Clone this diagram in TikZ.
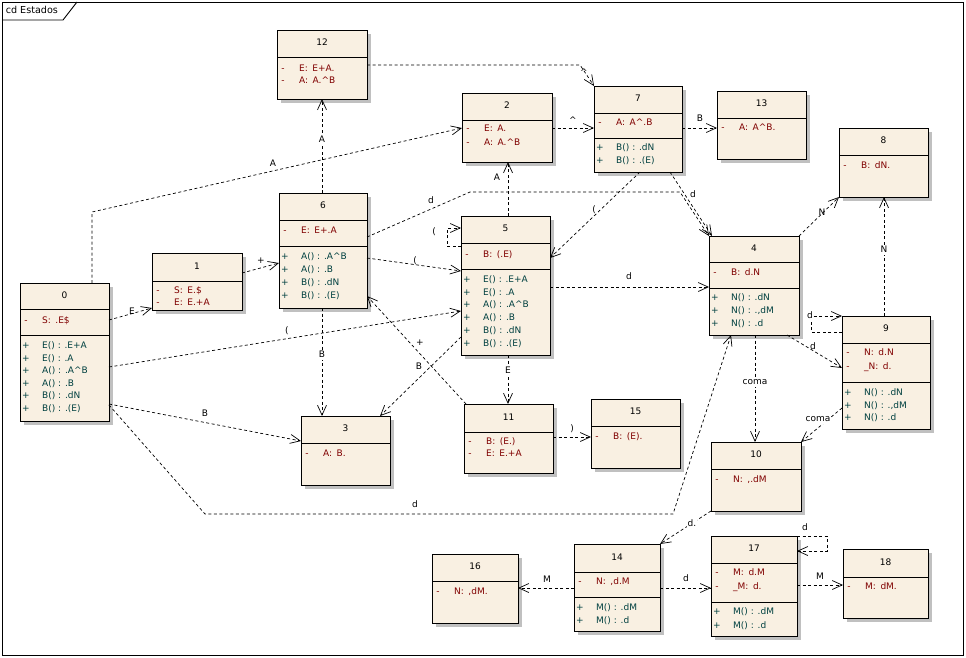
\documentclass[tikz,border=0pt]{standalone}
\usepackage{fontspec}
\setmainfont{DejaVu Sans}
\usetikzlibrary{arrows.meta,calc}

\definecolor{boxfill}{RGB}{249,240,226}
\definecolor{boxshade}{RGB}{192,192,192}
\definecolor{attrred}{RGB}{128,0,0}
\definecolor{methteal}{RGB}{0,64,64}

\tikzset{
  diagfont/.style={font=\fontsize{9}{10}\selectfont},
  classframe/.style={draw=black, line width=0.9pt, fill=boxfill, rectangle, inner sep=0pt, outer sep=0pt},
  sepline/.style={draw=black, line width=0.9pt},
  rowtext/.style={diagfont, inner sep=0pt, text height=6.8pt, text depth=1.9pt},
  titletext/.style={rowtext, text=black},
  attrtext/.style={rowtext, text=attrred, anchor=west},
  methtext/.style={rowtext, text=methteal, anchor=west},
  dep/.style={draw=black, line width=0.7pt, dash pattern=on 3pt off 2.5pt,
    -{Straight Barb[length=10pt,width=9pt,line width=0.7pt]}},
  lbl/.style={rowtext, text=black, inner sep=0.6pt},
}

% class box: name, x1, y1, x2, y2, title, y of title separator
\newcommand\classbox[7]{%
  \fill[boxshade] (#2+4,#3+4) rectangle (#4+4,#5+4);
  \node[classframe, minimum width=#4-#2, minimum height=#5-#3] (#1) at ({(#2+#4)/2},{(#3+#5)/2}) {};
  \node[titletext] (#1-title) at ({(#2+#4)/2},{(#3+#7)/2}) {#6};
  \draw[sepline] (#1.west |- 0,#7) -- (#1.east |- 0,#7);
}
% separator above the operations
\newcommand\opsline[2]{\draw[sepline] (#1.west |- 0,#2) -- (#1.east |- 0,#2);}
% attribute row: box, row id, y, text
\newcommand\attrrow[4]{%
  \node[attrtext, anchor=center] (#1-#2m) at ($(#1.west |- 0,#3)+(6,0)$) {-};
  \node[attrtext] (#1-#2) at ($(#1.west |- 0,#3)+(22,0)$) {#4};
}
% operation row: box, row id, y, text
\newcommand\methrow[4]{%
  \node[methtext, anchor=center] (#1-#2m) at ($(#1.west |- 0,#3)+(6,0)$) {+};
  \node[methtext] (#1-#2) at ($(#1.west |- 0,#3)+(22,0)$) {#4};
}
\newcommand\crc{\textasciicircum}
% name/value gap of an attribute
\newcommand\cg{:\hspace{4.5pt}}

\begin{document}
\begin{tikzpicture}[x=1pt,y=-1pt]
\useasboundingbox (0,0) rectangle (966,657);
\fill[white] (0,0) rectangle (966,657);

% diagram frame with its name tab
\draw[line width=0.9pt] (2,2) rectangle (963,655);
\draw[line width=0.9pt] (2,20) -- (63,20) -- (77,2);
\node[lbl, anchor=west, font=\fontsize{9.6}{10}\selectfont] (frame-name) at (5,11) {cd Estados};

% ---------- states ----------
\classbox{b0}{20}{283}{109}{421}{0}{309}
\opsline{b0}{335}
\attrrow{b0}{a1}{321}{S\cg .E\$}
\methrow{b0}{m1}{346}{E() : .E+A}
\methrow{b0}{m2}{358.6}{E() : .A}
\methrow{b0}{m3}{371.2}{A() : .A\crc B}
\methrow{b0}{m4}{383.8}{A() : .B}
\methrow{b0}{m5}{396.4}{B() : .dN}
\methrow{b0}{m6}{409}{B() : .(E)}

\classbox{b1}{152}{253}{242}{310}{1}{281}
\attrrow{b1}{a1}{291}{S\cg E.\$}
\attrrow{b1}{a2}{303}{E\cg E.+A}

\classbox{b12}{277}{30}{367}{99}{12}{57}
\attrrow{b12}{a1}{69}{E\cg E+A.}
\attrrow{b12}{a2}{81}{A\cg A.\crc B}

\classbox{b6}{279}{193}{367}{308}{6}{220}
\opsline{b6}{246}
\attrrow{b6}{a1}{231}{E\cg E+.A}
\methrow{b6}{m1}{257}{A() : .A\crc B}
\methrow{b6}{m2}{270}{A() : .B}
\methrow{b6}{m3}{283}{B() : .dN}
\methrow{b6}{m4}{296}{B() : .(E)}

\classbox{b2}{462}{93}{552}{162}{2}{120}
\attrrow{b2}{a1}{129}{E\cg A.}
\attrrow{b2}{a2}{143}{A\cg A.\crc B}

\classbox{b7}{594}{86}{682}{172}{7}{113}
\opsline{b7}{138}
\attrrow{b7}{a1}{123}{A\cg A\crc .B}
\methrow{b7}{m1}{148}{B() : .dN}
\methrow{b7}{m2}{161}{B() : .(E)}

\classbox{b13}{717}{91}{806}{159}{13}{118}
\attrrow{b13}{a1}{128}{A\cg A\crc B.}

\classbox{b8}{839}{128}{928}{197}{8}{155}
\attrrow{b8}{a1}{166}{B\cg dN.}

\classbox{b5}{461}{216}{550}{355}{5}{243}
\opsline{b5}{269}
\attrrow{b5}{a1}{255}{B\cg (.E)}
\methrow{b5}{m1}{280}{E() : .E+A}
\methrow{b5}{m2}{293}{E() : .A}
\methrow{b5}{m3}{305.5}{A() : .A\crc B}
\methrow{b5}{m4}{318}{A() : .B}
\methrow{b5}{m5}{331}{B() : .dN}
\methrow{b5}{m6}{344}{B() : .(E)}

\classbox{b4}{709}{236}{799}{335}{4}{262}
\opsline{b4}{288}
\attrrow{b4}{a1}{273}{B\cg d.N}
\methrow{b4}{m1}{298}{N() : .dN}
\methrow{b4}{m2}{311}{N() : .,dM}
\methrow{b4}{m3}{324}{N() : .d}

\classbox{b9}{842}{316}{930}{429}{9}{343}
\opsline{b9}{382}
\attrrow{b9}{a1}{353}{N\cg d.N}
\attrrow{b9}{a2}{367}{\_N\cg d.}
\methrow{b9}{m1}{393}{N() : .dN}
\methrow{b9}{m2}{406}{N() : .,dM}
\methrow{b9}{m3}{418}{N() : .d}

\classbox{b3}{301}{416}{390}{485}{3}{443}
\attrrow{b3}{a1}{454}{A\cg B.}

\classbox{b11}{464}{404}{553}{473}{11}{432}
\attrrow{b11}{a1}{442}{B\cg (E.)}
\attrrow{b11}{a2}{454}{E\cg E.+A}

\classbox{b15}{591}{399}{680}{468}{15}{426}
\attrrow{b15}{a1}{437}{B\cg (E).}

\classbox{b10}{711}{442}{801}{511}{10}{469}
\attrrow{b10}{a1}{480}{N\cg ,.dM}

\classbox{b16}{432}{554}{518}{623}{16}{581}
\attrrow{b16}{a1}{592}{N\cg ,dM.}

\classbox{b14}{574}{544}{660}{631}{14}{572}
\opsline{b14}{597}
\attrrow{b14}{a1}{582}{N\cg ,d.M}
\methrow{b14}{m1}{608}{M() : .dM}
\methrow{b14}{m2}{621}{M() : .d}

\classbox{b17}{711}{536}{797}{636}{17}{563}
\opsline{b17}{602}
\attrrow{b17}{a1}{573}{M\cg d.M}
\attrrow{b17}{a2}{587}{\_M\cg d.}
\methrow{b17}{m1}{612}{M() : .dM}
\methrow{b17}{m2}{626}{M() : .d}

\classbox{b18}{843}{549}{928}{618}{18}{577}
\attrrow{b18}{a1}{587}{M\cg dM.}

% ---------- transitions ----------
\coordinate (k03) at (92,212);
\coordinate (k04a) at (205,514);
\coordinate (k04b) at (673,514);
\coordinate (k127) at (580,65);
\coordinate (k64a) at (470,192);
\coordinate (k64b) at (680,192);
\coordinate (k55a) at (447,246);
\coordinate (k55b) at (447,228);
\coordinate (k99a) at (811,332);
\coordinate (k99b) at (811,316);
\coordinate (k1717a) at (827,536);
\coordinate (k1717b) at (827,551);

\draw[dep] (b0.east |- 0,320) -- (b1.west |- 0,308);
\node[lbl] (t01) at (132,312) {E};

\draw[dep] (b1.east |- 0,273) -- (b6.west |- 0,263);
\node[lbl] (t16) at (261,261) {+};

\draw[dep] (b0.north -| 92,0) -- (k03) -- (b2.west |- 0,128);
\node[lbl] (t02) at (273,164) {A};

\draw[dep] (b0.east |- 0,367) -- (b5.west |- 0,311);
\node[lbl] (t05) at (287,331) {(};

\draw[dep] (b0.east |- 0,404) -- (b3.west |- 0,441);
\node[lbl] (t03) at (205,414) {B};

\draw[dep] (b0.east |- 0,405) -- (k04a) -- (k04b) -- (b4.south -| 731,0);
\node[lbl] (t04) at (415,505) {d};

\draw[dep] (b6.north -| 322,0) -- (b12.south -| 322,0);
\node[lbl, fill=white] (t612) at (322,140) {A};

\draw[dep] (b12.east |- 0,65) -- (k127) -- (b7.north west);
\node[lbl] (t127) at (584,73) {\crc};

\draw[dep] (b2.east |- 0,128) -- (b7.west |- 0,128);
\node[lbl] (t27) at (573,121) {\crc};

\draw[dep] (b7.east |- 0,128) -- (b13.west |- 0,128);
\node[lbl] (t713) at (700,119) {B};

\draw[dep] (b7.south -| 670,0) -- (712,236);
\node[lbl] (t74) at (693,195) {d};

\draw[dep] (b7.south -| 640,0) -- (b5.east |- 0,258);
\node[lbl] (t75) at (594,210) {(};

\draw[dep] (b5.north -| 508,0) -- (b2.south -| 508,0);
\node[lbl] (t52) at (497,178) {A};

\draw[dep] (b5.west |- 0,246) -- (k55a) -- (k55b) -- (b5.west |- 0,228);
\node[lbl] (t55) at (434,232) {(};

\draw[dep] (b6.east |- 0,237) -- (k64a) -- (k64b) -- (b4.north west);
\node[lbl] (t64) at (431,201) {d};

\draw[dep] (b6.east |- 0,258) -- (b5.west |- 0,271);
\node[lbl] (t65) at (415,261) {(};

\draw[dep] (b6.south -| 322,0) -- (b3.north -| 322,0);
\node[lbl, fill=white] (t63) at (322,355) {B};

\draw[dep] (b5.west |- 0,337) -- (b3.north -| 380,0);
\node[lbl] (t53) at (419,367) {B};

\draw[dep] (b11.north -| 466,0) -- (b6.east |- 0,296);
\node[lbl] (t116) at (420,343) {+};

\draw[dep] (b5.south -| 508,0) -- (b11.north -| 508,0);
\node[lbl, fill=white] (t511) at (508,371) {E};

\draw[dep] (b11.east |- 0,437) -- (b15.west |- 0,437);
\node[lbl] (t1115) at (572,429) {)};

\draw[dep] (b5.east |- 0,287) -- (b4.west |- 0,287);
\node[lbl] (t54) at (629,277) {d};

\draw[dep] (b4.north east) -- (b8.south west);
\node[lbl] (t48) at (822,213) {N};

\draw[dep] (b9.north -| 884,0) -- (b8.south -| 884,0);
\node[lbl, fill=white] (t98) at (884,250) {N};

\draw[dep] (b9.west |- 0,332) -- (k99a) -- (k99b) -- (b9.north west);
\node[lbl, fill=white] (t99) at (810,316) {d};

\draw[dep] (b4.south -| 787,0) -- (b9.west |- 0,368);
\node[lbl] (t49) at (813,347) {d};

\draw[dep] (b4.south -| 755,0) -- (b10.north -| 755,0);
\node[lbl, fill=white] (t410) at (755,382) {coma};

\draw[dep] (b9.west |- 0,408) -- (b10.north east);
\node[lbl, fill=white] (t910) at (818,419) {coma};

\draw[dep] (b10.south west) -- (b14.north east);
\node[lbl, fill=white] (t1014) at (692,524) {d.};

\draw[dep] (b14.west |- 0,588) -- (b16.east |- 0,588);
\node[lbl] (t1416) at (547,580) {M};

\draw[dep] (b14.east |- 0,588) -- (b17.west |- 0,588);
\node[lbl] (t1417) at (686,579) {d};

\draw[dep] (b17.north east) -- (k1717a) -- (k1717b) -- (b17.east |- 0,551);
\node[lbl] (t1717) at (805,528) {d};

\draw[dep] (b17.east |- 0,585) -- (b18.west |- 0,585);
\node[lbl] (t1718) at (820,577) {M};
\end{tikzpicture}
\end{document}
